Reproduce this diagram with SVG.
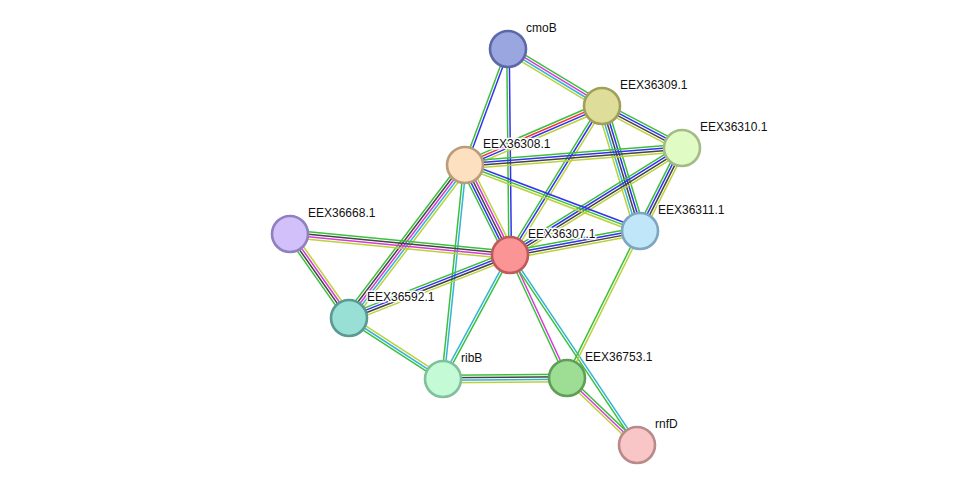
<svg xmlns="http://www.w3.org/2000/svg" width="976" height="491" viewBox="0 0 976 491">
<style>
line{stroke-width:1.5;fill:none}
.g{stroke:#3cc03c}.b{stroke:#3333ee}.k{stroke:#444}.m{stroke:#d83ad8}.c{stroke:#33b4d8}.y{stroke:#bcd23a}.r{stroke:#f03333}
circle{stroke-width:2.6}
text{font-family:"Liberation Sans",Arial,sans-serif;font-size:12px;fill:#111;stroke:#fff;stroke-width:3px;stroke-linejoin:round;paint-order:stroke}
</style>
<rect width="976" height="491" fill="#fff"/>
<g id="edges">
<g transform="translate(508,49) rotate(31.2)"><line class="g" x1="0" y1="-3.75" x2="109.9" y2="-3.75"/><line class="m" x1="0" y1="-1.25" x2="109.9" y2="-1.25"/><line class="c" x1="0" y1="1.25" x2="109.9" y2="1.25"/><line class="y" x1="0" y1="3.75" x2="109.9" y2="3.75"/></g>
<g transform="translate(508,49) rotate(110.3)"><line class="b" x1="0" y1="-1.25" x2="123.7" y2="-1.25"/><line class="g" x1="0" y1="1.25" x2="123.7" y2="1.25"/></g>
<g transform="translate(508,49) rotate(89.4)"><line class="b" x1="0" y1="-1.25" x2="206" y2="-1.25"/><line class="g" x1="0" y1="1.25" x2="206" y2="1.25"/></g>
<g transform="translate(602,106) rotate(156.7)"><line class="y" x1="0" y1="-3.75" x2="149.2" y2="-3.75"/><line class="b" x1="0" y1="-1.25" x2="149.2" y2="-1.25"/><line class="r" x1="0" y1="1.25" x2="149.2" y2="1.25"/><line class="g" x1="0" y1="3.75" x2="149.2" y2="3.75"/></g>
<g transform="translate(602,106) rotate(27.7)"><line class="g" x1="0" y1="-3.75" x2="90.4" y2="-3.75"/><line class="b" x1="0" y1="-1.25" x2="90.4" y2="-1.25"/><line class="k" x1="0" y1="1.25" x2="90.4" y2="1.25"/><line class="y" x1="0" y1="3.75" x2="90.4" y2="3.75"/></g>
<g transform="translate(602,106) rotate(73.1)"><line class="g" x1="0" y1="-5" x2="130.6" y2="-5"/><line class="b" x1="0" y1="-2.5" x2="130.6" y2="-2.5"/><line class="k" x1="0" y1="0" x2="130.6" y2="0"/><line class="c" x1="0" y1="2.5" x2="130.6" y2="2.5"/><line class="y" x1="0" y1="5" x2="130.6" y2="5"/></g>
<g transform="translate(602,106) rotate(121.7)"><line class="y" x1="0" y1="-2.5" x2="175.1" y2="-2.5"/><line class="b" x1="0" y1="0" x2="175.1" y2="0"/><line class="g" x1="0" y1="2.5" x2="175.1" y2="2.5"/></g>
<g transform="translate(682,148) rotate(175.5)"><line class="y" x1="0" y1="-3.75" x2="217.7" y2="-3.75"/><line class="k" x1="0" y1="-1.25" x2="217.7" y2="-1.25"/><line class="b" x1="0" y1="1.25" x2="217.7" y2="1.25"/><line class="g" x1="0" y1="3.75" x2="217.7" y2="3.75"/></g>
<g transform="translate(682,148) rotate(148.1)"><line class="y" x1="0" y1="-3.75" x2="202.6" y2="-3.75"/><line class="k" x1="0" y1="-1.25" x2="202.6" y2="-1.25"/><line class="b" x1="0" y1="1.25" x2="202.6" y2="1.25"/><line class="g" x1="0" y1="3.75" x2="202.6" y2="3.75"/></g>
<g transform="translate(682,148) rotate(116.8)"><line class="y" x1="0" y1="-3.75" x2="93" y2="-3.75"/><line class="k" x1="0" y1="-1.25" x2="93" y2="-1.25"/><line class="b" x1="0" y1="1.25" x2="93" y2="1.25"/><line class="g" x1="0" y1="3.75" x2="93" y2="3.75"/></g>
<g transform="translate(465,165) rotate(20.7)"><line class="b" x1="0" y1="-2.5" x2="187" y2="-2.5"/><line class="g" x1="0" y1="0" x2="187" y2="0"/><line class="y" x1="0" y1="2.5" x2="187" y2="2.5"/></g>
<g transform="translate(465,165) rotate(63.4)"><line class="y" x1="0" y1="-5" x2="100.6" y2="-5"/><line class="m" x1="0" y1="-2.5" x2="100.6" y2="-2.5"/><line class="k" x1="0" y1="0" x2="100.6" y2="0"/><line class="b" x1="0" y1="2.5" x2="100.6" y2="2.5"/><line class="g" x1="0" y1="5" x2="100.6" y2="5"/></g>
<g transform="translate(465,165) rotate(127.2)"><line class="y" x1="0" y1="-5" x2="192" y2="-5"/><line class="c" x1="0" y1="-2.5" x2="192" y2="-2.5"/><line class="m" x1="0" y1="0" x2="192" y2="0"/><line class="k" x1="0" y1="2.5" x2="192" y2="2.5"/><line class="g" x1="0" y1="5" x2="192" y2="5"/></g>
<g transform="translate(465,165) rotate(95.9)"><line class="c" x1="0" y1="-1.25" x2="215.1" y2="-1.25"/><line class="g" x1="0" y1="1.25" x2="215.1" y2="1.25"/></g>
<g transform="translate(510,255) rotate(-10.5)"><line class="g" x1="0" y1="-3.75" x2="132.2" y2="-3.75"/><line class="b" x1="0" y1="-1.25" x2="132.2" y2="-1.25"/><line class="k" x1="0" y1="1.25" x2="132.2" y2="1.25"/><line class="y" x1="0" y1="3.75" x2="132.2" y2="3.75"/></g>
<g transform="translate(510,255) rotate(185.5)"><line class="y" x1="0" y1="-3.75" x2="221" y2="-3.75"/><line class="m" x1="0" y1="-1.25" x2="221" y2="-1.25"/><line class="k" x1="0" y1="1.25" x2="221" y2="1.25"/><line class="g" x1="0" y1="3.75" x2="221" y2="3.75"/></g>
<g transform="translate(510,255) rotate(158.6)"><line class="y" x1="0" y1="-3.75" x2="172.9" y2="-3.75"/><line class="k" x1="0" y1="-1.25" x2="172.9" y2="-1.25"/><line class="b" x1="0" y1="1.25" x2="172.9" y2="1.25"/><line class="g" x1="0" y1="3.75" x2="172.9" y2="3.75"/></g>
<g transform="translate(510,255) rotate(118.4)"><line class="g" x1="0" y1="-1.25" x2="140.9" y2="-1.25"/><line class="c" x1="0" y1="1.25" x2="140.9" y2="1.25"/></g>
<g transform="translate(510,255) rotate(65.1)"><line class="m" x1="0" y1="-1.25" x2="135.6" y2="-1.25"/><line class="g" x1="0" y1="1.25" x2="135.6" y2="1.25"/></g>
<g transform="translate(510,255) rotate(56.2)"><line class="c" x1="0" y1="-1.25" x2="228.5" y2="-1.25"/><line class="g" x1="0" y1="1.25" x2="228.5" y2="1.25"/></g>
<g transform="translate(290,234) rotate(54.9)"><line class="y" x1="0" y1="-3.75" x2="102.6" y2="-3.75"/><line class="m" x1="0" y1="-1.25" x2="102.6" y2="-1.25"/><line class="k" x1="0" y1="1.25" x2="102.6" y2="1.25"/><line class="g" x1="0" y1="3.75" x2="102.6" y2="3.75"/></g>
<g transform="translate(349,318) rotate(33)"><line class="y" x1="0" y1="-2.5" x2="112.1" y2="-2.5"/><line class="c" x1="0" y1="0" x2="112.1" y2="0"/><line class="g" x1="0" y1="2.5" x2="112.1" y2="2.5"/></g>
<g transform="translate(443,379) rotate(-0.5)"><line class="g" x1="0" y1="-3.75" x2="124" y2="-3.75"/><line class="k" x1="0" y1="-1.25" x2="124" y2="-1.25"/><line class="c" x1="0" y1="1.25" x2="124" y2="1.25"/><line class="y" x1="0" y1="3.75" x2="124" y2="3.75"/></g>
<g transform="translate(567,378) rotate(43.7)"><line class="g" x1="0" y1="-2.5" x2="96.9" y2="-2.5"/><line class="m" x1="0" y1="0" x2="96.9" y2="0"/><line class="y" x1="0" y1="2.5" x2="96.9" y2="2.5"/></g>
<g transform="translate(640,231) rotate(116.4)"><line class="y" x1="0" y1="-1.25" x2="164.1" y2="-1.25"/><line class="g" x1="0" y1="1.25" x2="164.1" y2="1.25"/></g>
</g>
<g id="cmoB"><circle cx="508" cy="49" r="18" fill="#9aa6e0" stroke="#5c68a8"/><text x="526" y="32">cmoB</text></g>
<g id="EEX36309.1"><circle cx="602" cy="106" r="18" fill="#dede9a" stroke="#a0a05a"/><text x="620" y="89">EEX36309.1</text></g>
<g id="EEX36310.1"><circle cx="682" cy="148" r="18" fill="#e0fcc4" stroke="#a3bc87"/><text x="700" y="131">EEX36310.1</text></g>
<g id="EEX36308.1"><circle cx="465" cy="165" r="18" fill="#fde0c0" stroke="#b89c7c"/><text x="483" y="148">EEX36308.1</text></g>
<g id="EEX36311.1"><circle cx="640" cy="231" r="18" fill="#c0e6fa" stroke="#7ea6c0"/><text x="658" y="214">EEX36311.1</text></g>
<g id="EEX36307.1"><circle cx="510" cy="255" r="18" fill="#fb9494" stroke="#c05a5a"/><text x="528" y="238">EEX36307.1</text></g>
<g id="EEX36668.1"><circle cx="290" cy="234" r="18" fill="#d2c0fa" stroke="#9080c0"/><text x="308" y="217">EEX36668.1</text></g>
<g id="EEX36592.1"><circle cx="349" cy="318" r="18" fill="#98e0d6" stroke="#5a9a92"/><text x="367" y="301">EEX36592.1</text></g>
<g id="ribB"><circle cx="443" cy="379" r="18" fill="#c4fad6" stroke="#80c09a"/><text x="461" y="362">ribB</text></g>
<g id="EEX36753.1"><circle cx="567" cy="378" r="18" fill="#9ede94" stroke="#5e9e56"/><text x="585" y="361">EEX36753.1</text></g>
<g id="rnfD"><circle cx="637" cy="445" r="18" fill="#f8c6c6" stroke="#b88a8a"/><text x="655" y="428">rnfD</text></g>
</svg>
